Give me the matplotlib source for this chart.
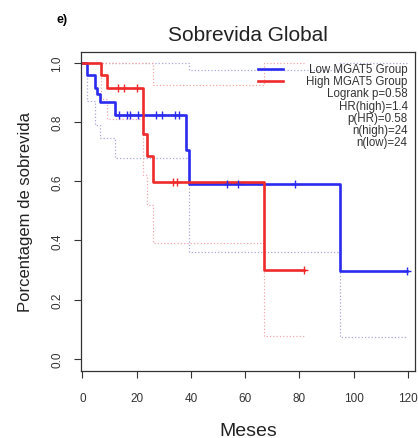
import matplotlib
matplotlib.use("Agg")
import matplotlib.pyplot as plt
from matplotlib.lines import Line2D

plt.rcParams["font.family"] = ["Liberation Sans", "DejaVu Sans"]

# Low MGAT5 group (blue)
low_times = [0, 1.7, 4.5, 5.5, 6.5, 12.0, 38.2, 39.2, 94.9]
low_surv = [1.0, 0.958, 0.917, 0.894, 0.867, 0.824, 0.706, 0.591, 0.295]
low_end = 119.5
low_censor = [13.5, 16.3, 17.5, 20.6, 27.1, 29.2, 34.1, 35.7, 53.2, 57.4, 78.2, 119.5]
low_up_times = [0, 39.2, 94.9]
low_up = [1.0, 0.976, 1.0]
low_lo_times = [0, 1.7, 4.5, 6.5, 12.0, 39.2, 94.9]
low_lo = [1.0, 0.87, 0.79, 0.745, 0.68, 0.36, 0.074]

# High MGAT5 group (red)
high_times = [0, 7.0, 8.9, 22.3, 23.9, 25.9, 67.0]
high_surv = [1.0, 0.958, 0.917, 0.76, 0.687, 0.597, 0.299]
high_end = 81.5
high_censor = [13.2, 15.4, 20.0, 33.4, 34.7, 81.5]
high_up_times = [0, 25.9, 67.0]
high_up = [1.0, 0.927, 1.0]
high_lo_times = [0, 7.0, 8.9, 22.3, 23.9, 25.9, 67.0]
high_lo = [1.0, 0.88, 0.81, 0.62, 0.52, 0.39, 0.078]

stats_lines = ["Logrank p=0.58", "HR(high)=1.4", "p(HR)=0.58", "n(high)=24", "n(low)=24"]
legend_labels = ["Low MGAT5 Group", "High MGAT5 Group"]
x_ticks = [0, 20, 40, 60, 80, 100, 120]
y_ticks = [0.0, 0.2, 0.4, 0.6, 0.8, 1.0]

BLUE = "#2b2bf0"
RED = "#ee2a2a"


def surv_at(times, vals, t):
    v = vals[0]
    for ti, vi in zip(times, vals):
        if ti <= t:
            v = vi
    return v


def step_line(ax, times, vals, end, **kw):
    xs = list(times) + [end]
    ys = list(vals) + [vals[-1]]
    ax.step(xs, ys, where="post", **kw)


fig = plt.figure(figsize=(4.18, 4.39), dpi=100)
ax = fig.add_axes([0.194, 0.153, 0.799, 0.726])

# confidence bands (dotted)
step_line(ax, low_up_times, low_up, low_end, color="#a8a8e0", lw=0.9, ls=":")
step_line(ax, low_lo_times, low_lo, low_end, color="#a8a8d8", lw=0.9, ls=":")
step_line(ax, high_up_times, high_up, high_end, color="#f3a8a0", lw=0.9, ls=":")
step_line(ax, high_lo_times, high_lo, high_end, color="#f3a8b0", lw=0.9, ls=":")

# survival curves
step_line(ax, low_times, low_surv, low_end, color=BLUE, lw=1.9)
step_line(ax, high_times, high_surv, high_end, color=RED, lw=1.9)

# censor marks
ax.plot(low_censor, [surv_at(low_times, low_surv, t) for t in low_censor],
        ls="none", marker="+", ms=6, mew=1.0, color=BLUE)
ax.plot(high_censor, [surv_at(high_times, high_surv, t) for t in high_censor],
        ls="none", marker="+", ms=6, mew=1.0, color=RED)

ax.set_xlim(-0.5, 122.6)
ax.set_ylim(-0.041, 1.037)
ax.set_xticks(x_ticks)
ax.set_yticks(y_ticks)
ax.set_yticklabels([f"{v:.1f}" for v in y_ticks], rotation=90, va="center")
ax.tick_params(axis="both", direction="out", length=5, width=0.8,
               labelsize=8.5, colors="#333333")
ax.tick_params(axis="x", pad=10)
ax.tick_params(axis="y", pad=8)
for s in ax.spines.values():
    s.set_linewidth(0.9)
    s.set_color("#333333")

ax.set_xlabel("Meses", fontsize=14, labelpad=13, color="#222222")
ax.set_ylabel("Porcentagem de sobrevida", fontsize=12, labelpad=13, color="#222222")
ax.set_title("Sobrevida Global", fontsize=15, pad=9, color="#222222")
fig.text(0.135, 0.948, "e)", fontsize=9, fontweight="bold")

# legend and stats, right aligned like the R plot
x_txt = 0.978
y0 = 0.948
dy = 0.0385
for i, (lab, col) in enumerate(zip(legend_labels, [BLUE, RED])):
    y = y0 - i * dy
    ax.add_line(Line2D([0.53, 0.605], [y, y], transform=ax.transAxes,
                       color=col, lw=1.9))
    ax.text(x_txt, y, lab, transform=ax.transAxes, ha="right", va="center",
            fontsize=8.3, color="#333333")
for j, s in enumerate(stats_lines):
    y = y0 - (j + 2) * dy
    ax.text(x_txt, y, s, transform=ax.transAxes, ha="right", va="center",
            fontsize=8.3, color="#333333")

fig.savefig("out.png", dpi=100)
